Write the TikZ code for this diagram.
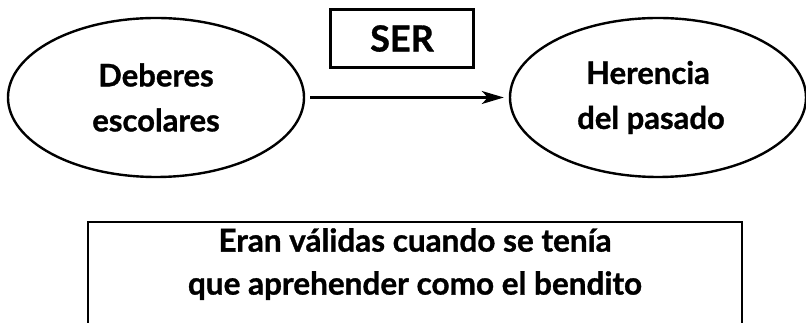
\documentclass[tikz,border=0pt]{standalone}
\usepackage{fontspec}
\setmainfont{Lato}[UprightFont=* Bold,FakeBold=1]
\usetikzlibrary{arrows.meta,shapes.geometric}
\begin{document}
\begin{tikzpicture}[x=1pt,y=1pt,
  oval/.style={draw,line width=2.4pt,ellipse,minimum width=296pt,minimum height=159pt,inner sep=0pt,align=center,font=\fontsize{31}{45}\selectfont},
  serbox/.style={draw,line width=2.4pt,rectangle,minimum width=143pt,minimum height=58pt,inner sep=0pt,font=\fontsize{36}{40}\selectfont},
  bigbox/.style={draw,line width=2.4pt,rectangle,inner sep=0pt,anchor=north},
  conn/.style={line width=2.4pt,-{Stealth[length=22pt,width=13pt,inset=6pt]},shorten <=5pt,shorten >=5pt}
]
\clip (0,0) rectangle (806,323);
\node[oval] (deb) at (156,225.5) {Deberes\\escolares};
\node[oval] (her) at (658,225.5) {Herencia\hspace*{20pt}\\del pasado\hspace*{14pt}};
\node[serbox] (ser) at (402,284.5) {SER};
\draw[conn] (deb.east) -- (her.west);
\node[bigbox] (val) at (415,102) {\parbox[c][160pt][t]{654pt}{\centering\fontsize{31.5}{43}\selectfont\vspace*{6pt}Eran válidas cuando se tenía\\que aprehender como el bendito}};
\end{tikzpicture}
\end{document}
